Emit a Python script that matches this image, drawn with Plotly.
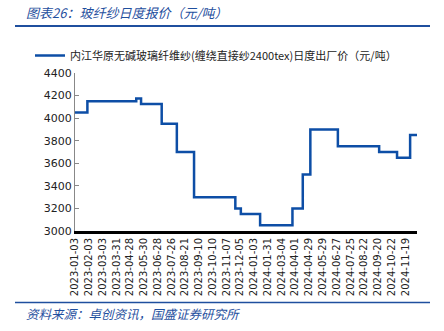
import plotly.graph_objects as go

# ---- data ----
series_name = "内江华原无碱玻璃纤维纱(缠绕直接纱2400tex)日度出厂价（元/吨）"
# trading-day index where price changes, and the new price level
change_idx = [0, 18, 89, 96, 126, 148, 173, 233, 241, 269, 316, 331, 342, 382, 442, 468, 487, 497]
price = [4050, 4150, 4175, 4125, 3950, 3700, 3300, 3200, 3150, 3050, 3200, 3500, 3900, 3750, 3700, 3650, 3850, 3850]
tick_labels = ["2023-01-03", "2023-02-03", "2023-03-03", "2023-03-31", "2023-04-28", "2023-05-30",
               "2023-06-28", "2023-07-26", "2023-08-21", "2023-09-10", "2023-10-10", "2023-11-07",
               "2023-12-05", "2024-01-03", "2024-01-31", "2024-03-04", "2024-04-01", "2024-04-29",
               "2024-05-29", "2024-06-27", "2024-07-25", "2024-08-22", "2024-09-20", "2024-10-22",
               "2024-11-19"]
tick_step = 20
y_ticks = [3000, 3200, 3400, 3600, 3800, 4000, 4200, 4400]

W, H = 444, 331
L, R, T, B = 75, 27, 73, 100

def px_x(px):
    return (px - L) / (W - L - R)

def px_y(py):
    return (H - B - py) / (H - T - B)

BLUE = "#0D4EA6"
TXT_BLUE = "#1F4F9E"
CJK = "Noto Sans CJK SC"
NUM = "DejaVu Sans, Noto Sans CJK SC"

fig = go.Figure()
fig.add_trace(go.Scatter(
    x=change_idx, y=price, mode="lines", line=dict(color=BLUE, width=2.5, shape="hv"),
    name=series_name, showlegend=True,
))

fig.update_layout(
    width=W, height=H, margin=dict(l=L, r=R, t=T, b=B),
    paper_bgcolor="white", plot_bgcolor="white",
    showlegend=True,
    legend=dict(x=px_x(30), y=px_y(41), xanchor="left", yanchor="top", orientation="h",
                font=dict(family=CJK, size=11, color="#222222"), bgcolor="rgba(0,0,0,0)",
                itemwidth=30),
    xaxis=dict(range=[0, change_idx[-1]], tickmode="array",
               tickvals=[i * tick_step for i in range(len(tick_labels))], ticktext=tick_labels,
               tickangle=-90, tickfont=dict(family=NUM, size=10, color="#222222"),
               showline=True, linecolor="black", linewidth=3, ticks="", showgrid=False,
               zeroline=False),
    yaxis=dict(range=[3000, 4400], tickmode="array", tickvals=y_ticks,
               tickfont=dict(family=NUM, size=11, color="#222222"),
               showline=True, linecolor="#888888", linewidth=1, ticks="inside", ticklen=4,
               tickcolor="#888888", showgrid=False, zeroline=False),
)

# header / footer
fig.add_annotation(x=px_x(24), y=px_y(13), xref="paper", yref="paper", xanchor="left", yanchor="middle",
                   text="<i>图表26：玻纤纱日度报价（元/吨）</i>", showarrow=False,
                   font=dict(family=CJK, size=13, color=TXT_BLUE))
fig.add_annotation(x=px_x(24), y=px_y(313), xref="paper", yref="paper", xanchor="left", yanchor="middle",
                   text="<i>资料来源：卓创资讯，国盛证券研究所</i>", showarrow=False,
                   font=dict(family=CJK, size=12.5, color=TXT_BLUE))
fig.add_shape(type="line", xref="paper", yref="paper", x0=px_x(15), x1=px_x(430), y0=px_y(26), y1=px_y(26),
              line=dict(color=TXT_BLUE, width=2))
fig.add_shape(type="line", xref="paper", yref="paper", x0=px_x(15), x1=px_x(430), y0=px_y(302.5), y1=px_y(302.5),
              line=dict(color=TXT_BLUE, width=1.5))

fig.write_html("out.html")
